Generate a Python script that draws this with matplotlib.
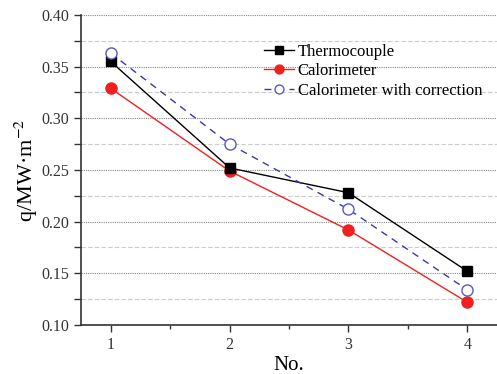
import numpy as np
import matplotlib.pyplot as plt
from matplotlib.ticker import MultipleLocator

plt.rcParams['font.family'] = ['Liberation Serif', 'DejaVu Serif']
plt.rcParams['mathtext.fontset'] = 'stix'

no = [1, 2, 3, 4]
thermo = [0.355, 0.252, 0.228, 0.152]
calor = [0.329, 0.249, 0.192, 0.122]
calor_corr = [0.363, 0.275, 0.212, 0.134]

fig = plt.figure(figsize=(4.97, 3.74), dpi=100)
ax = fig.add_axes([0.163, 0.131, 0.837, 0.829])

ax.plot(no, thermo, color='black', lw=1, marker='s', ms=7, label='Thermocouple', zorder=4)
ax.plot(no, calor, color='#f02020', lw=1, marker='o', ms=8, label='Calorimeter', zorder=3)
ax.plot(no, calor_corr, color='#3a3aa8', lw=1, ls=(0, (5, 4)), marker='o', ms=8,
        mfc='white', mec='#5a5ab8', label='Calorimeter with correction', zorder=5)

ax.set_xlim(0.75, 4.25)
ax.set_ylim(0.10, 0.40)
ax.xaxis.set_major_locator(MultipleLocator(1))
ax.xaxis.set_minor_locator(MultipleLocator(0.5))
ax.yaxis.set_major_locator(MultipleLocator(0.05))
ax.yaxis.set_minor_locator(MultipleLocator(0.025))
ax.yaxis.set_major_formatter(plt.FormatStrFormatter('%.2f'))

ax.grid(True, which='major', axis='y', color='#888888', ls=(0, (1, 1)), lw=0.8)
ax.grid(True, which='minor', axis='y', color='#cccccc', ls=(0, (4, 2)), lw=0.8)
ax.set_axisbelow(True)

for s in ['top', 'right']:
    ax.spines[s].set_visible(False)
for s in ['left', 'bottom']:
    ax.spines[s].set_linewidth(1.2)
    ax.spines[s].set_color('#333333')

ax.tick_params(which='major', direction='out', length=5, width=1, labelsize=11.5, colors='#333333')
ax.tick_params(which='minor', direction='out', length=3, width=1, colors='#333333')
ax.tick_params(axis='y', which='minor', length=5)

ax.set_xlabel('No.', fontsize=15, labelpad=2)
ax.set_ylabel('q/MW·m$^{-2}$', fontsize=16, labelpad=1)

leg = ax.legend(loc='upper right', bbox_to_anchor=(1.0, 0.955), frameon=False, fontsize=12,
                handlelength=1.8, handletextpad=0.2, labelspacing=0.2, markerscale=0.8)

fig.savefig('out.png', dpi=100)
